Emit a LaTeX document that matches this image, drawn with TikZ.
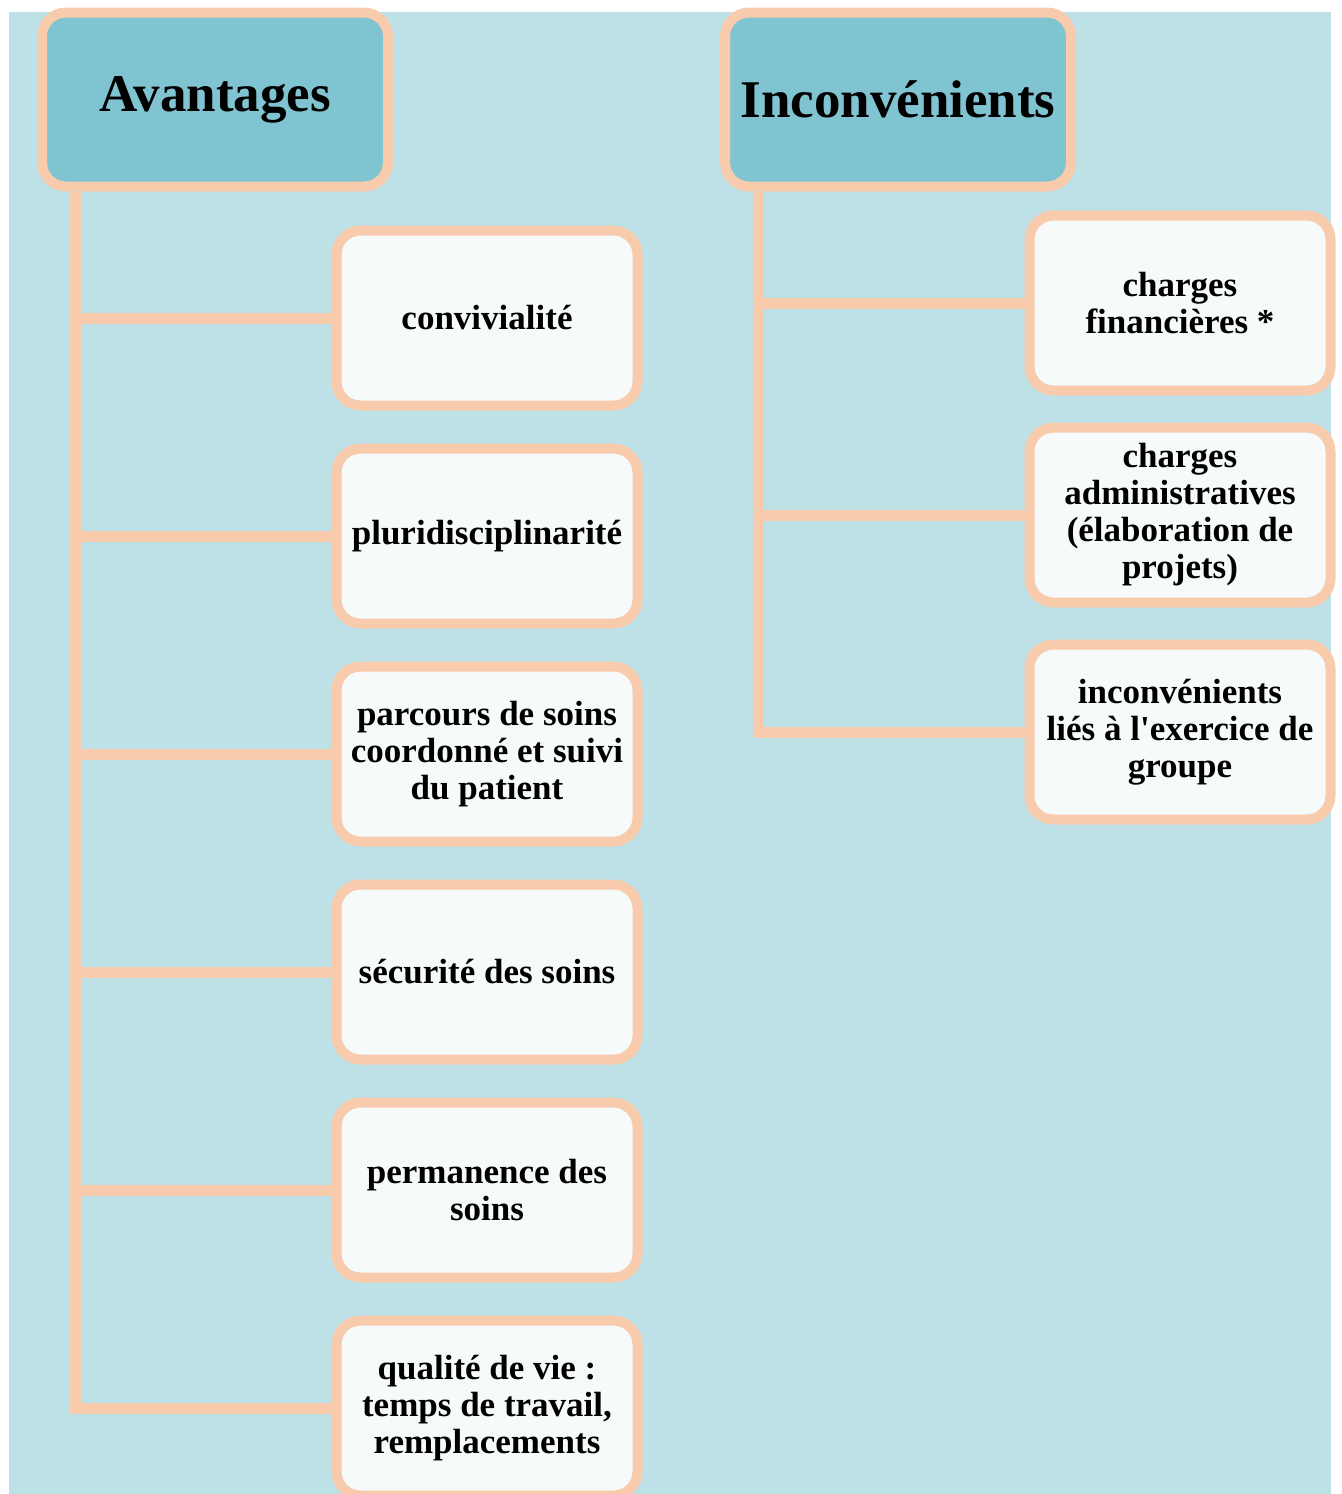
\documentclass[tikz,border=0pt]{standalone}
\usepackage{fontspec}
\setmainfont{Liberation Serif}
\usetikzlibrary{calc}
\definecolor{peach}{HTML}{F8CBAD}
\definecolor{headteal}{HTML}{80C4D2}
\definecolor{backteal}{HTML}{BEE1E7}
\definecolor{boxwhite}{HTML}{F6FAFB}
\tikzset{
	headbox/.style={draw=peach, line width=5pt, fill=headteal, rounded corners=12pt,
		minimum width=173pt, minimum height=87pt, inner sep=0pt,
		font=\fontsize{26.5}{30}\selectfont\bfseries},
	itembox/.style={draw=peach, line width=5pt, fill=boxwhite, rounded corners=12pt,
		minimum width=150.5pt, minimum height=87.5pt, inner sep=0pt, align=center,
		font=\fontsize{17.5}{18.5}\selectfont\bfseries},
	branch/.style={draw=peach, line width=5.5pt},
}
\begin{document}
\begin{tikzpicture}[x=0.5pt,y=-0.5pt]
			%%%%% START %%%%%
			
			\useasboundingbox (0,0) rectangle (1341,1494);
			\clip (0,0) rectangle (1341,1494);
			\fill[backteal] (9,12) rectangle (1331,1494);
			
			% headers
			\node[headbox] (avantages) at (215,99.5) {Avantages};
			\node[headbox] (inconv) at (898,99.5) {Inconvénients};
			
			\coordinate (avtrunk) at ([xshift=19pt]avantages.south west);
			\coordinate (intrunk) at ([xshift=19pt]inconv.south west);
			
			% avantages
			\node[itembox] (conv) at (487,318) {convivialité};
			\node[itembox] (pluri) at (487,536) {pluridisciplinarité};
			\node[itembox] (parcours) at (487,754) {parcours de soins\\coordonné et suivi\\du patient};
			\node[itembox] (secu) at (487,972) {sécurité des soins};
			\node[itembox] (perm) at (487,1190) {permanence des\\soins};
			\node[itembox] (qualite) at (487,1408) {qualité de vie :\\temps de travail,\\remplacements};
			
			% inconvenients
			\node[itembox] (fin) at (1180,303) {charges\\financières *};
			\node[itembox] (admin) at (1180,515) {charges\\administratives\\(élaboration de\\projets)};
			\node[itembox] (groupe) at (1180,732) {inconvénients\\liés à l\textquotesingle exercice de\\groupe};
			
			\foreach \b in {conv,pluri,parcours,secu,perm,qualite}
				\draw[branch] (avtrunk) |- (\b.west);
			\foreach \b in {fin,admin,groupe}
				\draw[branch] (intrunk) |- (\b.west);
			
			%%%%% END %%%%%
\end{tikzpicture}
\end{document}
